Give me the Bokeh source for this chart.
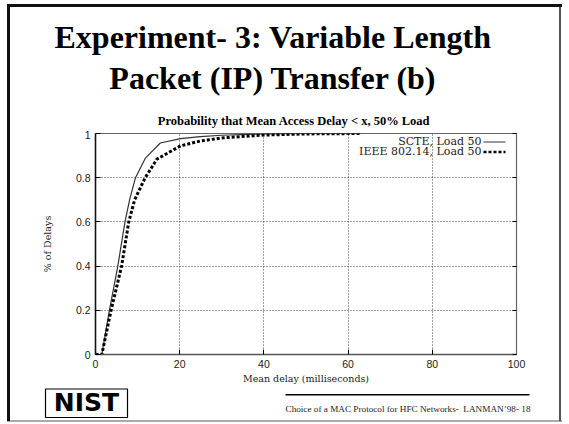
from bokeh.plotting import figure
from bokeh.models import (Label, Arrow, BoxAnnotation, FixedTicker, LinearAxis, Range1d, Spacer)
from bokeh.layouts import column, row
from bokeh.embed import file_html
from bokeh.resources import INLINE

# ---- data ----
scte_x = [0, 1.5, 3.3, 5.3, 7.0, 8.1, 9.5, 11.9, 15.4, 20.2, 24.9, 30, 40, 50, 63]
scte_y = [0, 0, 0.2, 0.4, 0.6, 0.7, 0.8, 0.89, 0.957, 0.977, 0.986, 0.992, 0.998, 1.0, 1.0]
ieee_x = [0, 1.5, 3.7, 6.2, 7.9, 9.3, 11.8, 14.6, 20.2, 24.9, 30, 40, 50, 63]
ieee_y = [0, 0, 0.2, 0.4, 0.6, 0.7, 0.8, 0.884, 0.944, 0.966, 0.98, 0.993, 0.998, 1.0]
series_names = ["SCTE, Load 50", "IEEE 802.14, Load 50"]
x_ticks = [0, 20, 40, 60, 80, 100]
x_tick_labels = ["0", "20", "40", "60", "80", "100"]
y_ticks = [0, 0.2, 0.4, 0.6, 0.8, 1.0]
y_tick_labels = ["0", "0.2", "0.4", "0.6", "0.8", "1"]
title_lines = ["Experiment- 3: Variable Length", "Packet (IP) Transfer (b)"]
chart_title = "Probability that Mean Access Delay < x, 50% Load"
x_label = "Mean delay (milliseconds)"
y_label = "% of Delays"
footer = "Choice of a MAC Protocol for HFC Networks-\u00a0 LANMAN\u201998- 18"
logo_text = "NIST"

SERIF = "DejaVu Serif"
W, H = 569, 424
TOP_H = 130       # page rows 0..130  : slide title + chart title
MID_Y1 = 386      # page rows 130..386: chart
LEFT_W = 30       # left spacer 0..30
RIGHT_X0 = 555    # right spacer 555..569
FL, FB = 95, 355  # page position of chart frame left / bottom
K = 0.33          # alphabetic-baseline correction (fraction of font size)

# slide frame drawn as the page background of the whole layout
FRAME_CSS = ("linear-gradient(#111111,#111111) 7px 4px / 555px 3px no-repeat, "
             "linear-gradient(#111111,#111111) 7px 4px / 3px 417px no-repeat, "
             "linear-gradient(#555555,#555555) 559px 4px / 2px 417px no-repeat, "
             "linear-gradient(#aaaaaa,#aaaaaa) 7px 420px / 555px 2px no-repeat, #ffffff")


def aux(x0, x1, y0, y1):
    f = figure(width=x1 - x0, height=y1 - y0, output_backend="svg", toolbar_location=None,
               x_range=Range1d(x0, x1), y_range=Range1d(-y1, -y0),
               x_axis_location=None, y_axis_location=None, sizing_mode="fixed",
               min_border=0, min_border_left=0, min_border_right=0, min_border_top=0,
               min_border_bottom=0)
    f.xgrid.visible = False
    f.ygrid.visible = False
    f.outline_line_color = None
    f.background_fill_color = None
    f.border_fill_color = None
    return f


def text(f, xp, yb, s, size, **kw):
    f.add_layout(Label(x=xp, y=-(yb - K * size), text=s, text_baseline="alphabetic",
                       text_font_size=f"{size}px", **kw))


# ---- top panel: slide title + chart title ----
top = aux(0, W, 0, TOP_H)
for txt, yb in zip(title_lines, [47, 88]):
    text(top, 272.5, yb, txt, 32, text_align="center", text_font="Liberation Serif",
         text_font_style="bold", text_color="black")
text(top, 293.5, 124.5, chart_title, 12.5, text_align="center", text_font="Liberation Serif",
     text_font_style="bold", text_color="black")

# ---- main chart ----
p = figure(width=RIGHT_X0 - LEFT_W, height=MID_Y1 - TOP_H, output_backend="svg", toolbar_location=None,
           x_range=Range1d(0, 100), y_range=Range1d(0, 1), sizing_mode="fixed",
           min_border_left=FL - LEFT_W, min_border_right=RIGHT_X0 - 516, min_border_top=133 - TOP_H,
           min_border_bottom=MID_Y1 - FB,
           x_axis_label=x_label, y_axis_label=y_label)
p.background_fill_color = "white"
p.border_fill_color = "white"
p.outline_line_color = "#666666"
p.outline_line_width = 1.2

for ax in (p.xaxis[0], p.yaxis[0]):
    ax.major_tick_in = 5
    ax.major_tick_out = 0
    ax.minor_tick_line_color = None
    ax.major_label_text_font = "Liberation Sans"
    ax.major_label_text_font_size = "10.5px"
    ax.major_label_text_color = "#222222"
    ax.axis_label_text_font = SERIF
    ax.axis_label_text_font_style = "normal"
    ax.axis_label_text_font_size = "9.5px"
    ax.axis_label_text_color = "#222222"
p.xaxis[0].ticker = FixedTicker(ticks=x_ticks)
p.xaxis[0].major_label_overrides = dict(zip(x_ticks, x_tick_labels))
p.yaxis[0].ticker = FixedTicker(ticks=y_ticks)
p.yaxis[0].major_label_overrides = dict(zip(y_ticks, y_tick_labels))
p.xaxis[0].major_label_standoff = 5
p.yaxis[0].major_label_standoff = 5
p.xaxis[0].axis_label_standoff = 2
p.yaxis[0].axis_label_standoff = 20
p.yaxis[0].axis_line_color = "#111111"
p.xaxis[0].axis_line_color = "#555555"
p.yaxis[0].axis_line_width = 1.5
p.xaxis[0].axis_line_width = 1.5

ax_r = LinearAxis(ticker=FixedTicker(ticks=y_ticks), major_label_overrides={t: "" for t in y_ticks},
                  major_tick_in=4, major_tick_out=0, minor_tick_line_color=None,
                  axis_line_color="#666666")
p.add_layout(ax_r, "right")

p.xgrid.ticker = FixedTicker(ticks=x_ticks[1:-1])
p.ygrid.ticker = FixedTicker(ticks=y_ticks[1:-1])
for g in (p.xgrid[0], p.ygrid[0]):
    g.grid_line_color = "#444444"
    g.grid_line_dash = "1 2"
    g.grid_line_width = 1

p.line(scte_x, scte_y, line_color="#333333", line_width=1.2)
p.line(ieee_x, ieee_y, line_color="black", line_width=3, line_dash="3 2")


def sx(xp):
    return xp - FL


def sy(yp):
    return FB - yp


# legend (text right-aligned, sample to the right), inside the frame
LEG = 11
for name, yb, lc, lw, ld in [(series_names[0], 146, "#333333", 1.2, "solid"),
                             (series_names[1], 156, "black", 2.5, "3 2")]:
    p.add_layout(Label(x=sx(481), y=sy(yb - K * LEG), x_units="screen", y_units="screen", text=name,
                       text_align="right", text_baseline="alphabetic", text_font=SERIF,
                       text_font_size=f"{LEG}px", text_color="#222222"))
    p.add_layout(Arrow(start=None, end=None, x_start=sx(483), y_start=sy(yb - 3.5), x_end=sx(505),
                       y_end=sy(yb - 3.5), start_units="screen", end_units="screen", line_color=lc,
                       line_width=lw, line_dash=ld))

# ---- bottom panel: logo + footer ----
bot = aux(0, W, MID_Y1, H)
bot.add_layout(BoxAnnotation(left=45, right=127, top=-388.5, bottom=-417, fill_color="white",
                             fill_alpha=1, line_color="black", line_width=1.2, line_alpha=1))
text(bot, 86, 410.5, logo_text, 25, text_align="center", text_font="DejaVu Sans",
     text_font_style="bold", text_color="black")
bot.add_layout(BoxAnnotation(left=285, right=529, top=-393.5, bottom=-395, fill_color="black",
                             fill_alpha=1, line_color=None))
text(bot, 285, 412, footer, 9.2, text_align="left", text_font="Liberation Serif",
     text_color="#222222")

middle = row(Spacer(width=LEFT_W, height=MID_Y1 - TOP_H), p,
             Spacer(width=W - RIGHT_X0, height=MID_Y1 - TOP_H), spacing=0)
layout = column(top, middle, bot, spacing=0, styles={"background": FRAME_CSS})
open("out.html", "w").write(file_html(layout, INLINE))
